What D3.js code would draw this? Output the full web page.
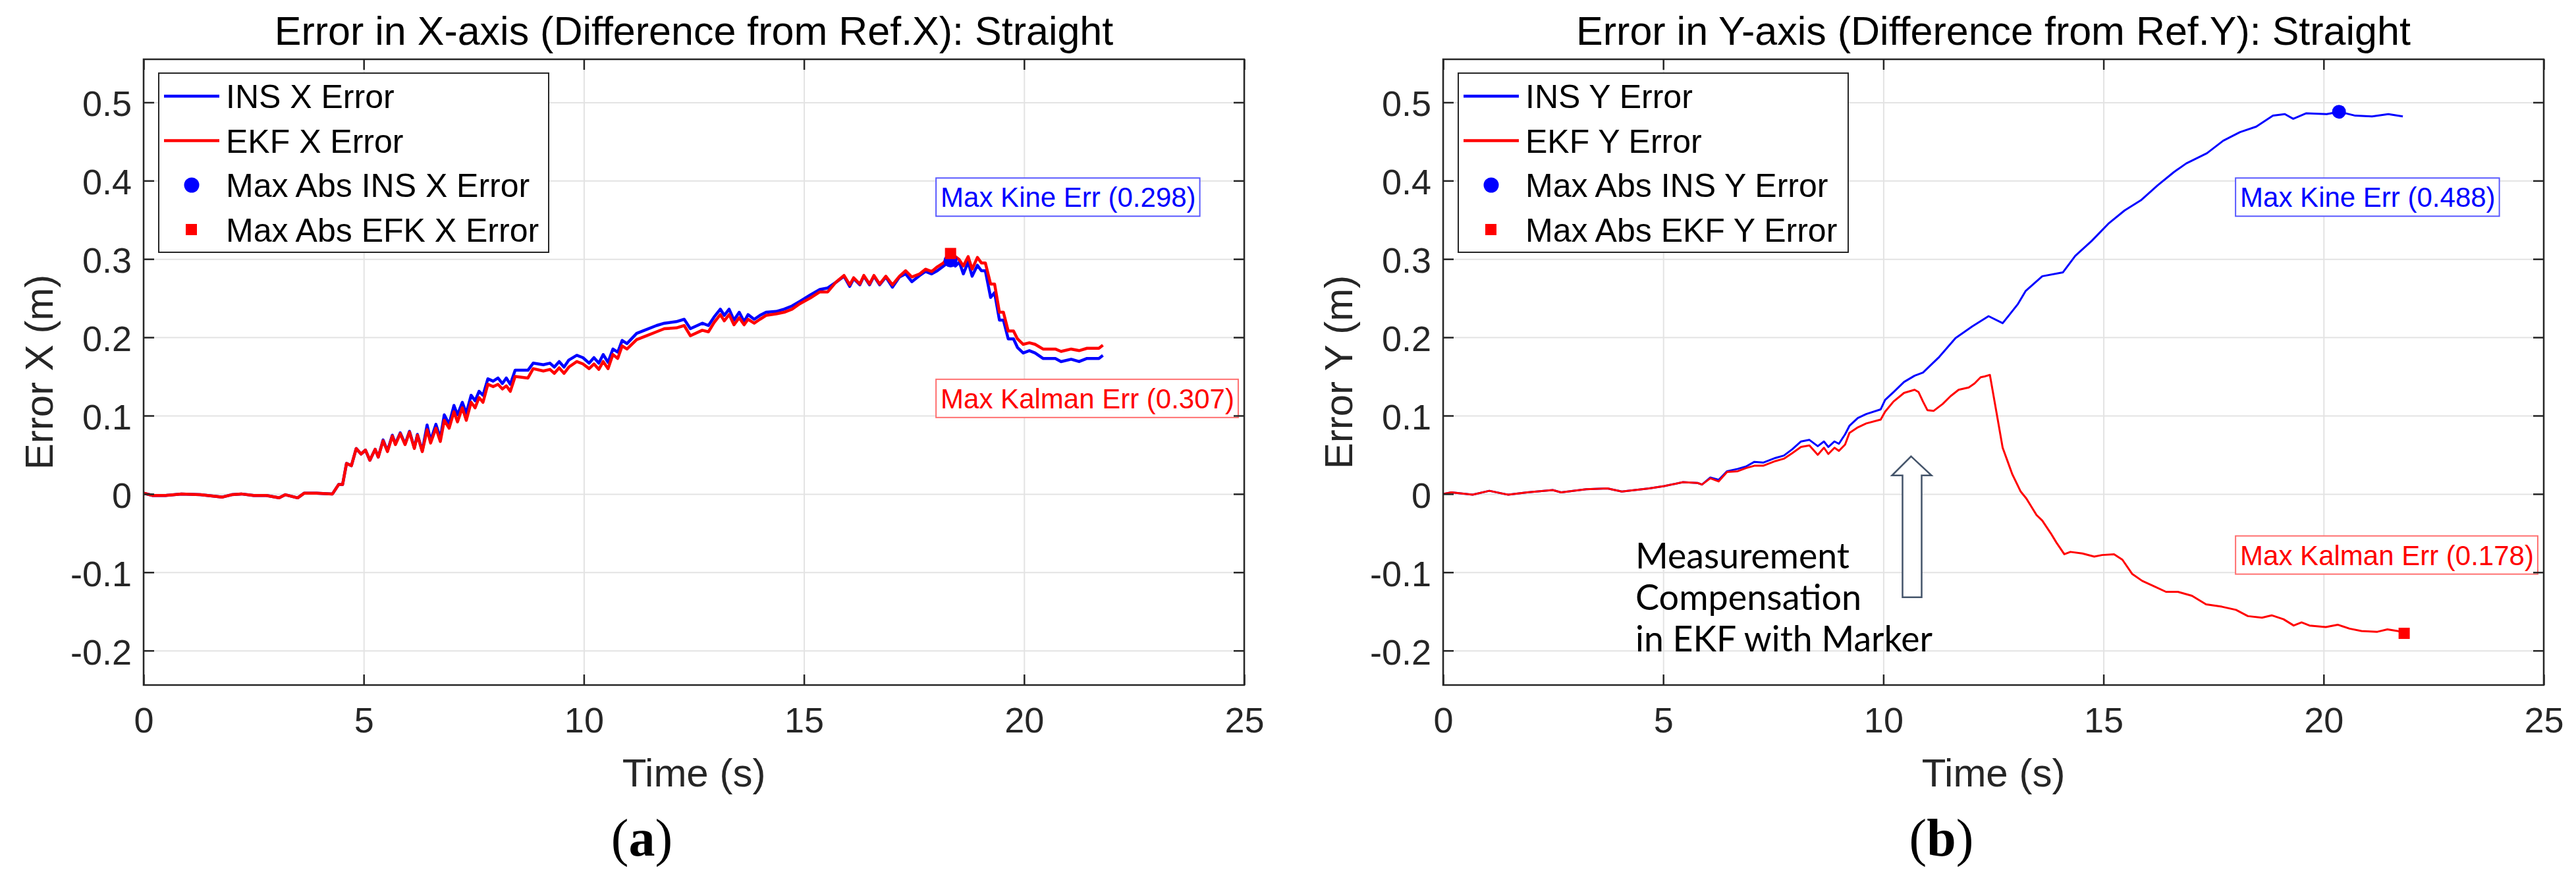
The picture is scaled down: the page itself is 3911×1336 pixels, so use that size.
<!DOCTYPE html>
<html>
<head>
<meta charset="utf-8">
<script src="https://cdn.jsdelivr.net/npm/d3@7"></script>
<style>
  body { margin: 0; background: #fff; }
  svg { display: block; font-family: 'Liberation Sans', Arial, sans-serif; }
</style>
</head>
<body>
<svg id="chart" width="3911" height="1336"></svg>
<script>
// ---- data ----
const timeTicks = [0, 5, 10, 15, 20, 25]
const errorTicks = [-0.2, -0.1, 0, 0.1, 0.2, 0.3, 0.4, 0.5]

// panel (a): X error, INS and EKF share the same time stamps
const xTime = [
  0.00, 0.21, 0.50, 0.86, 1.29, 1.79, 2.00, 2.22, 2.50, 2.79,
  3.08, 3.22, 3.50, 3.65, 3.93, 4.29, 4.43, 4.52, 4.61, 4.72,
  4.83, 4.94, 5.04, 5.14, 5.26, 5.33, 5.44, 5.54, 5.65, 5.72,
  5.83, 5.94, 6.04, 6.15, 6.22, 6.33, 6.44, 6.52, 6.64, 6.74,
  6.83, 6.94, 7.05, 7.13, 7.24, 7.33, 7.44, 7.53, 7.62, 7.71,
  7.82, 7.94, 8.05, 8.15, 8.24, 8.33, 8.44, 8.73, 8.85, 9.08,
  9.23, 9.33, 9.44, 9.55, 9.66, 9.84, 9.98, 10.12, 10.23, 10.34,
  10.44, 10.55, 10.66, 10.77, 10.87, 10.98, 11.20, 11.38, 11.65, 11.83,
  12.10, 12.28, 12.42, 12.69, 12.83, 12.96, 13.10, 13.19, 13.30, 13.41,
  13.53, 13.64, 13.73, 13.87, 14.00, 14.14, 14.37, 14.55, 14.73, 14.91,
  15.14, 15.36, 15.54, 15.72, 15.91, 16.04, 16.13, 16.27, 16.36, 16.49,
  16.59, 16.72, 16.86, 17.01, 17.17, 17.31, 17.45, 17.63, 17.76, 17.90,
  18.03, 18.17, 18.33, 18.44, 18.53, 18.62, 18.73, 18.82, 18.94, 19.03,
  19.12, 19.24, 19.33, 19.44, 19.53, 19.64, 19.76, 19.85, 19.98, 20.12,
  20.25, 20.43, 20.71, 20.84, 21.07, 21.25, 21.43, 21.70, 21.79
]
const xIns = [
  0.001, -0.002, -0.002, 0.000, -0.001, -0.004, -0.001, 0.000, -0.002, -0.002,
  -0.005, -0.001, -0.005, 0.001, 0.001, 0.000, 0.012, 0.012, 0.039, 0.036,
  0.058, 0.051, 0.056, 0.043, 0.057, 0.047, 0.069, 0.055, 0.075, 0.064,
  0.078, 0.064, 0.080, 0.059, 0.076, 0.055, 0.088, 0.068, 0.089, 0.071,
  0.101, 0.089, 0.113, 0.101, 0.117, 0.103, 0.126, 0.119, 0.131, 0.126,
  0.147, 0.144, 0.148, 0.141, 0.148, 0.140, 0.158, 0.158, 0.167, 0.165,
  0.167, 0.162, 0.169, 0.162, 0.171, 0.177, 0.174, 0.167, 0.174, 0.167,
  0.178, 0.168, 0.185, 0.181, 0.196, 0.192, 0.205, 0.209, 0.215, 0.218,
  0.220, 0.223, 0.211, 0.218, 0.215, 0.226, 0.236, 0.228, 0.236, 0.222,
  0.232, 0.220, 0.229, 0.223, 0.228, 0.232, 0.233, 0.236, 0.240, 0.246,
  0.254, 0.261, 0.263, 0.270, 0.278, 0.265, 0.275, 0.267, 0.278, 0.267,
  0.278, 0.267, 0.277, 0.264, 0.277, 0.281, 0.271, 0.279, 0.284, 0.281,
  0.285, 0.291, 0.298, 0.291, 0.296, 0.281, 0.296, 0.278, 0.292, 0.285,
  0.285, 0.251, 0.257, 0.222, 0.222, 0.198, 0.198, 0.187, 0.180, 0.183,
  0.180, 0.173, 0.173, 0.169, 0.172, 0.169, 0.173, 0.173, 0.177
]
const xEkf = [
  0.001, -0.002, -0.002, 0.000, -0.001, -0.004, -0.001, 0.000, -0.002, -0.002,
  -0.005, -0.001, -0.005, 0.001, 0.001, 0.000, 0.012, 0.012, 0.039, 0.036,
  0.058, 0.051, 0.056, 0.043, 0.057, 0.047, 0.068, 0.054, 0.074, 0.063,
  0.077, 0.063, 0.079, 0.058, 0.075, 0.054, 0.082, 0.065, 0.084, 0.067,
  0.094, 0.084, 0.105, 0.092, 0.110, 0.094, 0.117, 0.110, 0.123, 0.117,
  0.140, 0.137, 0.140, 0.134, 0.138, 0.131, 0.150, 0.148, 0.160, 0.157,
  0.159, 0.154, 0.161, 0.154, 0.162, 0.169, 0.166, 0.160, 0.166, 0.159,
  0.169, 0.160, 0.178, 0.173, 0.189, 0.185, 0.197, 0.201, 0.207, 0.211,
  0.212, 0.215, 0.202, 0.209, 0.207, 0.219, 0.229, 0.221, 0.229, 0.216,
  0.225, 0.216, 0.223, 0.218, 0.223, 0.228, 0.230, 0.232, 0.236, 0.243,
  0.250, 0.258, 0.258, 0.270, 0.279, 0.267, 0.276, 0.268, 0.279, 0.268,
  0.279, 0.268, 0.278, 0.267, 0.278, 0.285, 0.277, 0.281, 0.287, 0.284,
  0.290, 0.295, 0.307, 0.303, 0.299, 0.291, 0.303, 0.287, 0.302, 0.295,
  0.295, 0.268, 0.268, 0.232, 0.232, 0.208, 0.208, 0.198, 0.191, 0.193,
  0.191, 0.185, 0.185, 0.182, 0.185, 0.183, 0.186, 0.186, 0.190
]

// panel (b): Y error
const yTimeIns = [
  0, 0.19, 0.67, 1.05, 1.48, 1.91, 2.49, 2.68, 3.25, 3.73,
  4.06, 4.68, 5.02, 5.45, 5.78, 5.88, 6.07, 6.26, 6.45, 6.69,
  6.88, 7.07, 7.27, 7.55, 7.74, 7.93, 8.13, 8.32, 8.51, 8.65,
  8.75, 8.89, 8.99, 9.13, 9.23, 9.42, 9.61, 9.94, 10.04, 10.23,
  10.47, 10.71, 10.90, 11.27, 11.64, 12.02, 12.39, 12.71, 13.05, 13.23,
  13.61, 14.08, 14.36, 14.73, 15.11, 15.48, 15.85, 16.23, 16.60, 16.88,
  17.35, 17.72, 18.10, 18.47, 18.85, 19.12, 19.31, 19.60, 20.07, 20.35,
  20.72, 21.10, 21.47, 21.80
]
const yIns = [
  0.000, 0.002, -0.001, 0.004, -0.001, 0.002, 0.005, 0.002, 0.006, 0.007,
  0.003, 0.007, 0.010, 0.015, 0.014, 0.012, 0.021, 0.018, 0.029, 0.032,
  0.035, 0.041, 0.040, 0.046, 0.049, 0.057, 0.067, 0.069, 0.061, 0.067,
  0.060, 0.067, 0.064, 0.076, 0.087, 0.097, 0.102, 0.108, 0.120, 0.130,
  0.143, 0.151, 0.155, 0.175, 0.199, 0.214, 0.227, 0.218, 0.242, 0.259,
  0.278, 0.283, 0.304, 0.323, 0.345, 0.362, 0.375, 0.394, 0.411, 0.422,
  0.435, 0.451, 0.462, 0.469, 0.483, 0.485, 0.479, 0.486, 0.485, 0.488,
  0.483, 0.482, 0.485, 0.482
]
const yTimeEkf = [
  0, 0.19, 0.67, 1.05, 1.48, 1.91, 2.49, 2.68, 3.25, 3.73,
  4.06, 4.68, 5.02, 5.45, 5.78, 5.88, 6.07, 6.26, 6.45, 6.69,
  6.88, 7.07, 7.27, 7.55, 7.74, 7.93, 8.13, 8.32, 8.51, 8.65,
  8.75, 8.89, 8.99, 9.13, 9.23, 9.42, 9.61, 9.94, 10.04, 10.23,
  10.47, 10.71, 10.80, 10.90, 11.00, 11.14, 11.35, 11.53, 11.71, 11.94,
  12.07, 12.21, 12.30, 12.42, 12.57, 12.71, 12.93, 13.12, 13.25, 13.48,
  13.61, 13.80, 13.93, 14.11, 14.25, 14.52, 14.79, 14.97, 15.24, 15.43,
  15.65, 15.88, 16.15, 16.42, 16.69, 17.01, 17.33, 17.69, 18.01, 18.28,
  18.60, 18.82, 19.09, 19.32, 19.50, 19.68, 20.05, 20.32, 20.59, 20.86,
  21.22, 21.45, 21.68, 21.83
]
const yEkf = [
  0.000, 0.002, -0.001, 0.004, -0.001, 0.002, 0.005, 0.002, 0.006, 0.007,
  0.003, 0.007, 0.010, 0.015, 0.014, 0.012, 0.020, 0.016, 0.028, 0.029,
  0.033, 0.036, 0.036, 0.042, 0.045, 0.052, 0.060, 0.062, 0.050, 0.059,
  0.051, 0.059, 0.055, 0.063, 0.078, 0.085, 0.090, 0.095, 0.105, 0.118,
  0.129, 0.133, 0.130, 0.118, 0.107, 0.106, 0.115, 0.125, 0.133, 0.136,
  0.141, 0.149, 0.150, 0.152, 0.104, 0.059, 0.025, 0.003, -0.006, -0.027,
  -0.034, -0.050, -0.062, -0.077, -0.074, -0.076, -0.080, -0.078, -0.077, -0.084,
  -0.102, -0.111, -0.118, -0.125, -0.125, -0.130, -0.141, -0.144, -0.148, -0.156,
  -0.158, -0.155, -0.160, -0.168, -0.164, -0.168, -0.170, -0.167, -0.172, -0.175,
  -0.176, -0.173, -0.175, -0.178
]

const titles = [
  'Error in X-axis (Difference from Ref.X): Straight',
  'Error in Y-axis (Difference from Ref.Y): Straight'
]
const yLabels = ['Error X (m)', 'Error Y (m)']
const panelTags = ['a', 'b']
const legendLabels = [
  ['INS X Error', 'EKF X Error', 'Max Abs INS X Error', 'Max Abs EFK X Error'],
  ['INS Y Error', 'EKF Y Error', 'Max Abs INS Y Error', 'Max Abs EKF Y Error']
]
// where the two "Max ... Err" notes sit (time, error value at the box middle)
const noteTime = 18
const kineNoteY = [0.379, 0.379]
const kalmanNoteY = [0.122, -0.078]
// hollow arrow + text in panel (b)
const arrowTime = 10.63
const arrowTipY = 0.048
const arrowTailY = -0.132
const compTime = 4.37
const compY = -0.095
const compLines = ['Measurement', 'Compensation', 'in EKF with Marker']

// ---- layout ----
const plotTop = 90
const plotH = 950
const plotW = 1671
const plotLefts = [218, 2191]

const svg = d3.select('#chart')
svg.append('rect').attr('width', 3911).attr('height', 1336).attr('fill', '#fff')

const series = [
  { ins: { t: xTime, v: xIns }, ekf: { t: xTime, v: xEkf }, width: 4.5 },
  { ins: { t: yTimeIns, v: yIns }, ekf: { t: yTimeEkf, v: yEkf }, width: 3 }
]

function drawPanel(idx) {
  const s = series[idx]
  const g = svg.append('g').attr('transform', `translate(${plotLefts[idx]},${plotTop})`)

  const x = d3.scaleLinear().domain([0, 25]).range([0, plotW])
  const y = d3.scaleLinear().domain([-0.244, 0.555]).range([plotH, 0])

  // grid
  g.append('g')
    .attr('transform', `translate(0,${plotH})`)
    .call(d3.axisBottom(x).tickValues(timeTicks).tickSize(-plotH).tickFormat(''))
    .call(a => a.select('.domain').remove())
    .selectAll('line').attr('stroke', '#e3e3e3').attr('stroke-width', 2)
  g.append('g')
    .call(d3.axisLeft(y).tickValues(errorTicks).tickSize(-plotW).tickFormat(''))
    .call(a => a.select('.domain').remove())
    .selectAll('line').attr('stroke', '#e3e3e3').attr('stroke-width', 2)

  // curves
  const line = d3.line().x(d => x(d[0])).y(d => y(d[1]))
  g.append('path')
    .datum(d3.zip(s.ins.t, s.ins.v))
    .attr('d', line)
    .attr('fill', 'none').attr('stroke', '#0000ff')
    .attr('stroke-width', s.width).attr('stroke-linejoin', 'round')
  g.append('path')
    .datum(d3.zip(s.ekf.t, s.ekf.v))
    .attr('d', line)
    .attr('fill', 'none').attr('stroke', '#ff0000')
    .attr('stroke-width', s.width).attr('stroke-linejoin', 'round')

  // max abs markers
  const iMax = d3.maxIndex(s.ins.v, v => Math.abs(v))
  const eMax = d3.maxIndex(s.ekf.v, v => Math.abs(v))
  g.append('circle')
    .attr('cx', x(s.ins.t[iMax])).attr('cy', y(s.ins.v[iMax]))
    .attr('r', 10.5).attr('fill', '#0000ff')
  g.append('rect')
    .attr('x', x(s.ekf.t[eMax]) - 8.5).attr('y', y(s.ekf.v[eMax]) - 8.5)
    .attr('width', 17).attr('height', 17).attr('fill', '#ff0000')

  // notes with max values
  const notes = [
    { text: `Max Kine Err (${Math.abs(s.ins.v[iMax]).toFixed(3)})`, yv: kineNoteY[idx], color: '#0000ff', edge: '#5a5aff' },
    { text: `Max Kalman Err (${Math.abs(s.ekf.v[eMax]).toFixed(3)})`, yv: kalmanNoteY[idx], color: '#ff0000', edge: '#ff7070' }
  ]
  notes.forEach(n => {
    const box = g.append('rect')
    const txt = g.append('text')
      .attr('x', x(noteTime) + 7).attr('y', y(n.yv) + 15)
      .style('font-size', '42px').attr('fill', n.color)
      .text(n.text)
    const len = txt.node().getComputedTextLength()
    box.attr('x', x(noteTime)).attr('y', y(n.yv) - 29)
      .attr('width', len + 13).attr('height', 58)
      .attr('fill', '#fff').attr('stroke', n.edge).attr('stroke-width', 2)
  })

  // box and inward ticks
  const tick = 16
  g.append('rect').attr('width', plotW).attr('height', plotH)
    .attr('fill', 'none').attr('stroke', '#262626').attr('stroke-width', 2.5)
  const styleAxis = a => {
    a.select('.domain').remove()
    a.selectAll('line').attr('stroke', '#262626').attr('stroke-width', 2.5)
    a.selectAll('text').attr('fill', '#262626').style('font-size', '54px')
      .style('font-family', "'Liberation Sans', Arial, sans-serif")
  }
  g.append('g').attr('transform', `translate(0,${plotH})`)
    .call(d3.axisBottom(x).tickValues(timeTicks).tickSize(-tick).tickPadding(34))
    .call(styleAxis)
  g.append('g')
    .call(d3.axisLeft(y).tickValues(errorTicks).tickSize(-tick).tickPadding(18)
      .tickFormat(d => String(d)))
    .call(styleAxis)
    .selectAll('text').attr('dy', '0.38em')
  g.append('g')
    .call(d3.axisTop(x).tickValues(timeTicks).tickSize(-tick).tickFormat(''))
    .call(styleAxis)
  g.append('g').attr('transform', `translate(${plotW},0)`)
    .call(d3.axisRight(y).tickValues(errorTicks).tickSize(-tick).tickFormat(''))
    .call(styleAxis)

  // legend
  const lg = g.append('g').attr('transform', 'translate(23,21)')
  lg.append('rect').attr('width', 592).attr('height', 272)
    .attr('fill', '#fff').attr('stroke', '#262626').attr('stroke-width', 2)
  legendLabels[idx].forEach((label, i) => {
    const cy = 35 + 67.5 * i
    if (i < 2) {
      lg.append('line').attr('x1', 8).attr('x2', 92).attr('y1', cy).attr('y2', cy)
        .attr('stroke', i === 0 ? '#0000ff' : '#ff0000').attr('stroke-width', 4.5)
    } else if (i === 2) {
      lg.append('circle').attr('cx', 50).attr('cy', cy).attr('r', 11.5).attr('fill', '#0000ff')
    } else {
      lg.append('rect').attr('x', 41).attr('y', cy - 8.5).attr('width', 17).attr('height', 17)
        .attr('fill', '#ff0000')
    }
    lg.append('text').attr('x', 102).attr('y', cy + 18)
      .style('font-size', '50px').attr('fill', '#000').text(label)
  })

  // titles and labels
  g.append('text').attr('x', plotW / 2).attr('y', 68 - plotTop)
    .attr('text-anchor', 'middle').style('font-size', '61px').attr('fill', '#000')
    .text(titles[idx])
  g.append('text').attr('x', plotW / 2).attr('y', 1194 - plotTop)
    .attr('text-anchor', 'middle').style('font-size', '60px').attr('fill', '#262626')
    .text('Time (s)')
  g.append('text')
    .attr('transform', `translate(-138,${plotH / 2}) rotate(-90)`)
    .attr('text-anchor', 'middle').style('font-size', '60px').attr('fill', '#262626')
    .text(yLabels[idx])

  const tag = g.append('text').attr('x', plotW / 2 - 79).attr('y', 1299 - plotTop)
    .attr('text-anchor', 'middle')
    .style('font-family', "'Liberation Serif', 'Times New Roman', serif")
    .style('font-size', '80px').attr('fill', '#000')
  tag.append('tspan').text('(')
  tag.append('tspan').style('font-weight', 'bold').text(panelTags[idx])
  tag.append('tspan').text(')')

  if (idx === 1) {
    const ax = x(arrowTime), tipY = y(arrowTipY), tailY = y(arrowTailY)
    const pts = [
      [ax, tipY], [ax + 31, tipY + 29], [ax + 16, tipY + 29], [ax + 16, tailY],
      [ax - 13, tailY], [ax - 13, tipY + 29], [ax - 29, tipY + 29]
    ]
    g.append('path').attr('d', d3.line()(pts) + 'Z')
      .attr('fill', '#fff').attr('stroke', '#44546a').attr('stroke-width', 2.5)
      .attr('stroke-linejoin', 'miter')
    const widths = [325, 343, 451]
    compLines.forEach((txt, i) => {
      g.append('text').attr('x', x(compTime)).attr('y', y(compY) + 63 * i)
        .style('font-family', "Lato, 'Open Sans', sans-serif").style('font-size', '54px')
        .attr('fill', '#000')
        .attr('textLength', widths[i]).attr('lengthAdjust', 'spacingAndGlyphs')
        .text(txt)
    })
  }
}

drawPanel(0)
drawPanel(1)
</script>
</body>
</html>
